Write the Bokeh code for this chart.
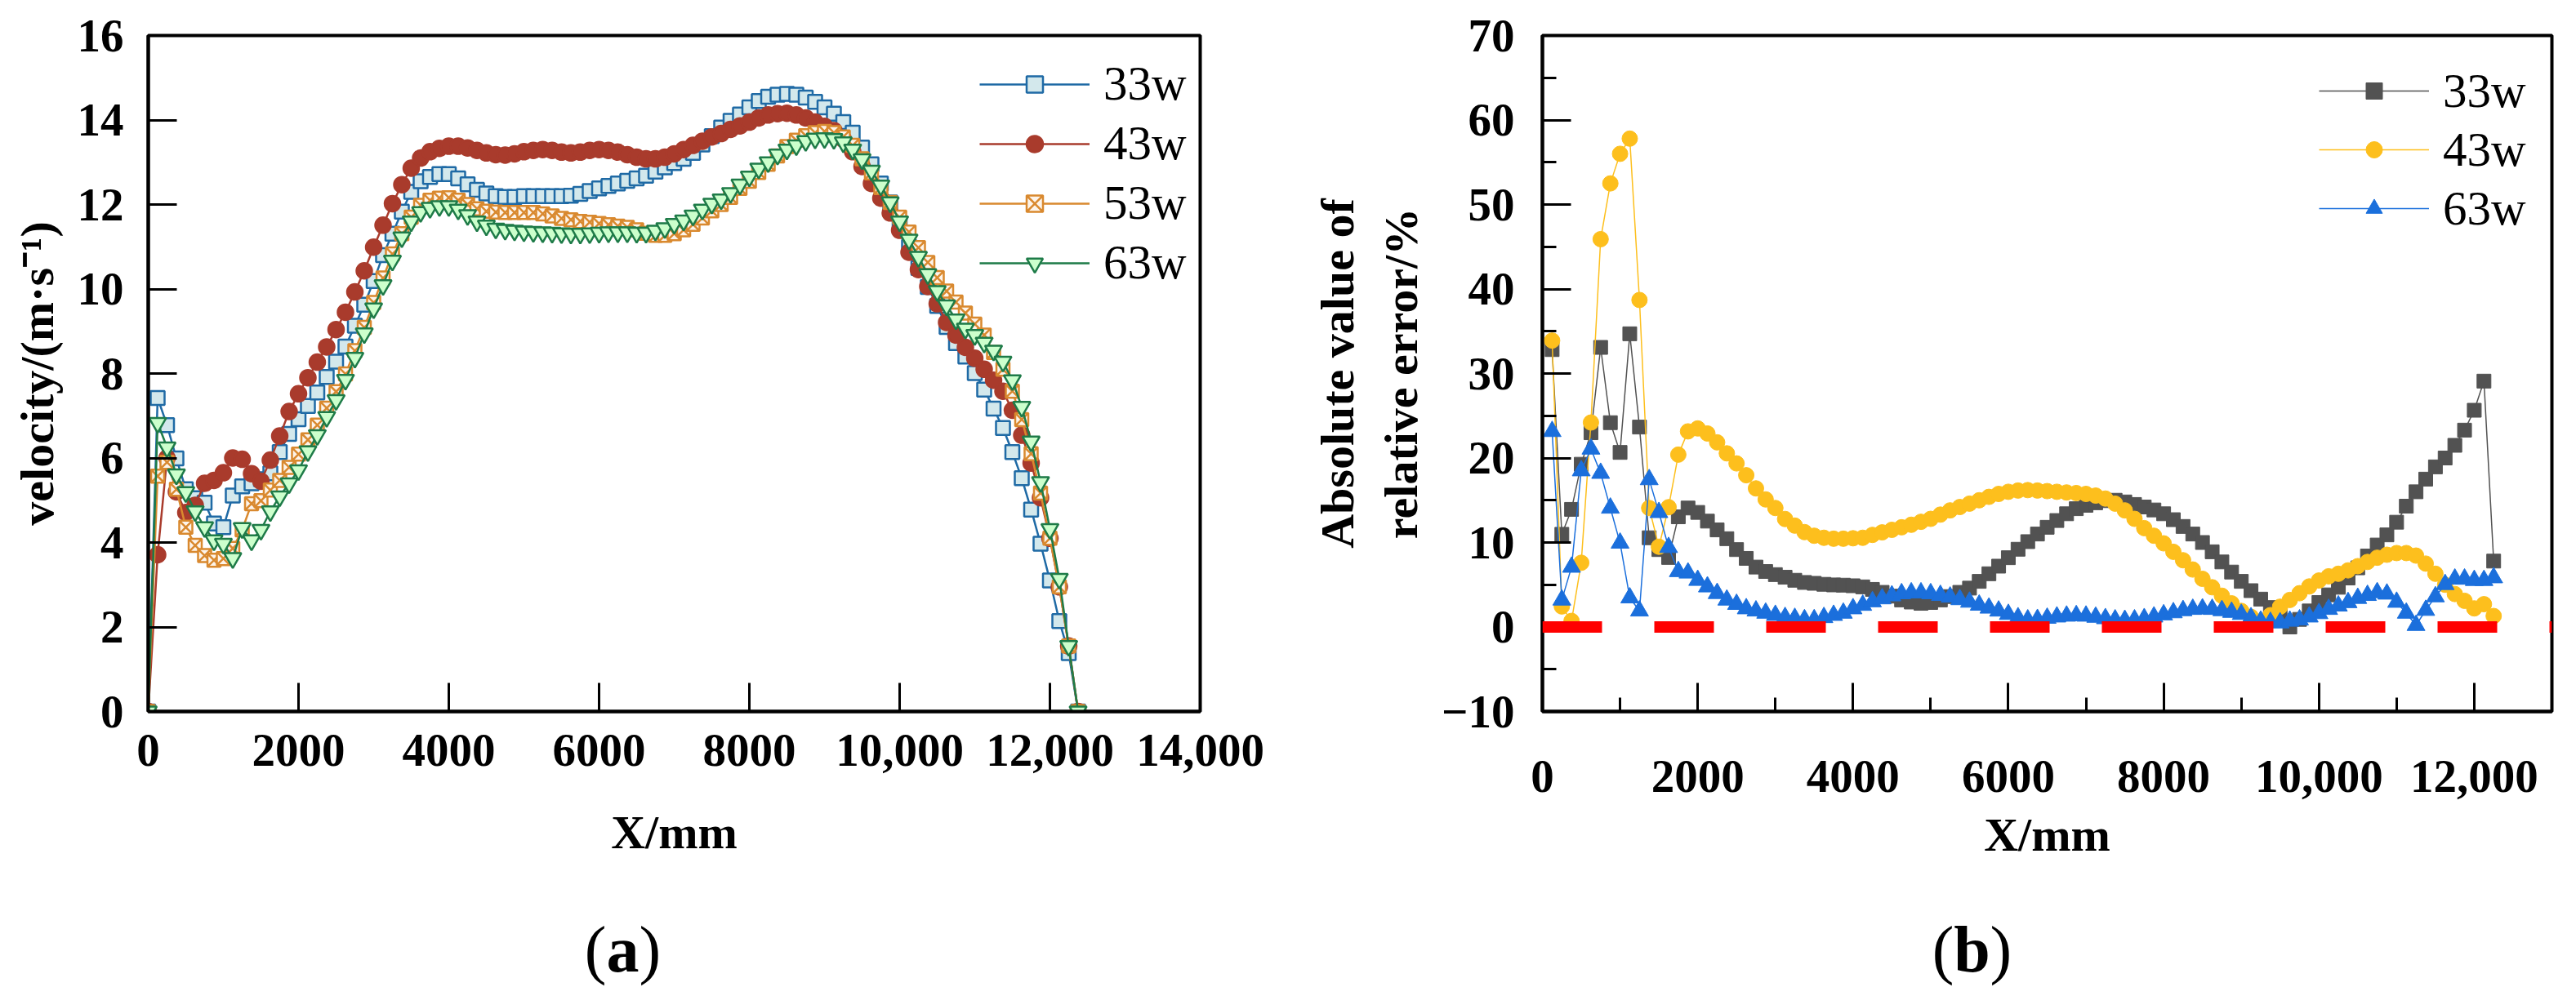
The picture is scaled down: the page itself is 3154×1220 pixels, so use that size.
from bokeh.plotting import figure
from bokeh.models import Range1d, FixedTicker, Legend, LegendItem, Label, Span
from bokeh.layouts import row, column
from bokeh.embed import file_html
from bokeh.resources import INLINE

SERIF = "Liberation Serif"

# ---------------- data ----------------
X_MM = [0, 125, 250, 375, 500, 625, 750, 875, 1000, 1125,
        1250, 1375, 1500, 1625, 1750, 1875, 2000, 2125, 2250, 2375,
        2500, 2625, 2750, 2875, 3000, 3125, 3250, 3375, 3500, 3625,
        3750, 3875, 4000, 4125, 4250, 4375, 4500, 4625, 4750, 4875,
        5000, 5125, 5250, 5375, 5500, 5625, 5750, 5875, 6000, 6125,
        6250, 6375, 6500, 6625, 6750, 6875, 7000, 7125, 7250, 7375,
        7500, 7625, 7750, 7875, 8000, 8125, 8250, 8375, 8500, 8625,
        8750, 8875, 9000, 9125, 9250, 9375, 9500, 9625, 9750, 9875,
        10000, 10125, 10250, 10375, 10500, 10625, 10750, 10875, 11000, 11125,
        11250, 11375, 11500, 11625, 11750, 11875, 12000, 12125, 12250, 12375]

# (a) velocity, m/s
VEL_33W = [0, 7.42, 6.78, 5.99, 5.26, 5.05, 4.94, 4.45, 4.36, 5.11,
           5.33, 5.40, 5.50, 5.64, 6.14, 6.57, 6.92, 7.23, 7.55, 7.92,
           8.28, 8.64, 9.13, 9.63, 10.19, 10.80, 11.31, 11.83, 12.30, 12.55,
           12.65, 12.72, 12.72, 12.62, 12.48, 12.35, 12.26, 12.20, 12.18, 12.18,
           12.20, 12.20, 12.20, 12.20, 12.20, 12.21, 12.25, 12.32, 12.38, 12.44,
           12.50, 12.56, 12.62, 12.68, 12.78, 12.88, 12.98, 13.08, 13.22, 13.42,
           13.62, 13.82, 13.98, 14.13, 14.30, 14.45, 14.55, 14.60, 14.62, 14.60,
           14.53, 14.43, 14.30, 14.15, 13.95, 13.70, 13.35, 12.95, 12.50, 12.05,
           11.50, 11.00, 10.50, 10.05, 9.60, 9.10, 8.72, 8.40, 8.01, 7.62,
           7.17, 6.71, 6.14, 5.52, 4.78, 3.97, 3.10, 2.14, 1.38, 0]
VEL_43W = [0, 3.71, 6.00, 5.20, 4.71, 4.88, 5.40, 5.47, 5.65, 6.00,
           5.97, 5.63, 5.45, 5.95, 6.52, 7.10, 7.52, 7.90, 8.27, 8.63,
           9.04, 9.45, 9.93, 10.43, 10.99, 11.51, 12.02, 12.47, 12.86, 13.10,
           13.25, 13.33, 13.38, 13.38, 13.34, 13.28, 13.22, 13.18, 13.17, 13.20,
           13.25, 13.28, 13.30, 13.28, 13.24, 13.22, 13.24, 13.28, 13.30, 13.28,
           13.24, 13.18, 13.12, 13.08, 13.08, 13.12, 13.20, 13.30, 13.40, 13.50,
           13.60, 13.68, 13.78, 13.86, 13.95, 14.05, 14.12, 14.15, 14.16, 14.12,
           14.05, 13.95, 13.85, 13.75, 13.55, 13.25, 12.90, 12.50, 12.15, 11.80,
           11.39, 10.87, 10.46, 10.06, 9.65, 9.21, 8.91, 8.62, 8.36, 8.10,
           7.84, 7.58, 7.13, 6.54, 5.88, 5.06, 4.10, 2.95, 1.55, 0]
VEL_53W = [0, 5.57, 5.90, 5.26, 4.36, 3.93, 3.69, 3.58, 3.62, 3.86,
           4.30, 4.92, 4.99, 5.24, 5.47, 5.78, 6.09, 6.43, 6.78, 7.18,
           7.57, 7.99, 8.54, 9.09, 9.68, 10.26, 10.83, 11.31, 11.70, 11.98,
           12.10, 12.15, 12.16, 12.10, 12.00, 11.90, 11.84, 11.82, 11.81, 11.81,
           11.81, 11.81, 11.78, 11.73, 11.67, 11.64, 11.60, 11.58, 11.55, 11.52,
           11.49, 11.46, 11.40, 11.32, 11.27, 11.27, 11.31, 11.40, 11.53, 11.68,
           11.85, 12.00, 12.17, 12.38, 12.55, 12.76, 12.95, 13.15, 13.37, 13.52,
           13.63, 13.70, 13.73, 13.70, 13.60, 13.40, 13.08, 12.75, 12.40, 12.05,
           11.70, 11.35, 10.98, 10.63, 10.27, 9.95, 9.69, 9.43, 9.17, 8.91,
           8.50, 8.10, 7.58, 6.91, 6.10, 5.17, 4.10, 2.95, 1.55, 0]
VEL_63W = [0, 6.83, 6.25, 5.61, 5.19, 4.74, 4.36, 4.05, 3.97, 3.63,
           4.34, 4.05, 4.30, 4.74, 5.09, 5.40, 5.71, 6.16, 6.54, 6.97,
           7.37, 7.85, 8.37, 8.95, 9.54, 10.09, 10.67, 11.22, 11.60, 11.82,
           11.92, 11.96, 11.96, 11.88, 11.75, 11.60, 11.50, 11.43, 11.40, 11.38,
           11.36, 11.35, 11.34, 11.33, 11.32, 11.31, 11.31, 11.32, 11.33, 11.34,
           11.34, 11.34, 11.33, 11.33, 11.38, 11.44, 11.54, 11.62, 11.74, 11.88,
           12.02, 12.12, 12.27, 12.47, 12.66, 12.85, 13.00, 13.18, 13.30, 13.40,
           13.50, 13.56, 13.57, 13.55, 13.47, 13.30, 13.07, 12.80, 12.45, 12.05,
           11.60, 11.17, 10.76, 10.35, 9.95, 9.61, 9.28, 9.06, 8.91, 8.73,
           8.54, 8.28, 7.84, 7.21, 6.39, 5.43, 4.32, 3.14, 1.55, 0]

# (b) absolute value of relative error, % (no value at the end points)
X_ERR = X_MM[1:-1]
ERR_33W = [32.83, 10.97, 13.92, 19.26, 22.99, 33.09, 24.18, 20.66, 34.70, 23.66,
           10.56, 9.16, 8.23, 13.04, 14.08, 13.56, 12.53, 11.49, 10.45, 9.16,
           8.12, 7.09, 6.57, 6.20, 5.89, 5.53, 5.27, 5.17, 5.05, 4.98,
           4.95, 4.88, 4.75, 4.45, 4.10, 3.65, 3.20, 2.95, 2.80, 2.90,
           3.20, 3.60, 4.10, 4.60, 5.40, 6.30, 7.20, 8.20, 9.20, 10.10,
           11.00, 11.80, 12.60, 13.40, 14.00, 14.40, 14.70, 14.95, 15.00, 14.80,
           14.50, 14.20, 13.85, 13.40, 12.70, 11.90, 11.00, 10.00, 8.90, 7.70,
           6.50, 5.40, 4.30, 3.30, 2.30, 1.30, 0.00, 0.90, 1.90, 2.90,
           3.80, 4.70, 5.80, 7.00, 8.40, 9.70, 10.90, 12.40, 14.30, 16.00,
           17.50, 18.95, 20.00, 21.50, 23.30, 25.65, 29.10, 7.80]
ERR_43W = [33.90, 2.43, 0.72, 7.60, 24.20, 45.90, 52.50, 56.00, 57.80, 38.70,
           14.08, 9.50, 14.18, 20.40, 23.15, 23.50, 22.90, 21.85, 20.55, 19.36,
           17.96, 16.40, 15.10, 14.08, 12.78, 12.00, 11.23, 10.80, 10.56, 10.45,
           10.45, 10.50, 10.56, 10.90, 11.20, 11.50, 11.80, 12.10, 12.45, 12.80,
           13.30, 13.80, 14.20, 14.60, 15.00, 15.40, 15.75, 16.00, 16.15, 16.20,
           16.15, 16.08, 16.00, 15.92, 15.85, 15.75, 15.55, 15.20, 14.60, 13.80,
           12.80, 11.70, 10.80, 9.90, 8.90, 7.90, 6.80, 5.70, 4.70, 3.70,
           2.80, 1.90, 1.20, 0.40, 1.40, 2.40, 3.20, 4.00, 4.80, 5.50,
           6.00, 6.30, 6.70, 7.20, 7.70, 8.20, 8.55, 8.75, 8.75, 8.45,
           7.50, 6.30, 5.00, 3.90, 3.10, 2.20, 2.70, 1.30]
ERR_63W = [23.15, 3.20, 7.09, 18.50, 21.07, 18.20, 14.08, 9.94, 3.46, 1.91,
           17.45, 13.56, 9.42, 6.57, 6.40, 5.53, 4.76, 3.98, 3.20, 2.69,
           2.17, 1.91, 1.65, 1.39, 1.13, 1.03, 0.87, 0.87, 1.13, 1.39,
           1.65, 2.17, 2.58, 3.00, 3.35, 3.70, 3.95, 4.05, 4.05, 3.95,
           3.75, 3.55, 3.25, 2.95, 2.60, 2.25, 1.90, 1.50, 1.10, 0.85,
           0.90, 1.05, 1.20, 1.30, 1.35, 1.30, 1.17, 1.00, 0.85, 0.80,
           0.85, 1.00, 1.20, 1.45, 1.70, 1.95, 2.10, 2.15, 2.10, 1.95,
           1.75, 1.50, 1.10, 0.70, 0.55, 0.50, 0.70, 0.85, 1.20, 1.60,
           2.10, 2.50, 2.90, 3.40, 3.75, 4.07, 3.91, 2.94, 1.65, 0.20,
           1.98, 3.59, 5.04, 5.68, 5.68, 5.52, 5.52, 5.84]
ERR_REF = 0

SERIES_LABELS_A = ["33w", "43w", "53w", "63w"]
SERIES_LABELS_B = ["33w", "43w", "63w"]

XTICKS_A = [0, 2000, 4000, 6000, 8000, 10000, 12000, 14000]
XTICK_LABELS_A = ["0", "2000", "4000", "6000", "8000", "10,000", "12,000", "14,000"]
YTICKS_A = [0, 2, 4, 6, 8, 10, 12, 14, 16]
XTICKS_B = [0, 2000, 4000, 6000, 8000, 10000, 12000]
XMINOR_B = [1000, 3000, 5000, 7000, 9000, 11000]
XTICK_LABELS_B = ["0", "2000", "4000", "6000", "8000", "10,000", "12,000"]
YTICKS_B = [-10, 0, 10, 20, 30, 40, 50, 60, 70]
YMINOR_B = [-5, 5, 15, 25, 35, 45, 55, 65]
YTICK_LABELS_B = ["\u221210", "0", "10", "20", "30", "40", "50", "60", "70"]

MAIN_H = 1092
CAP_H = 120


def style_axis(ax, lab_standoff, axlab_standoff):
    ax.axis_line_width = 4
    ax.axis_line_color = "black"
    ax.major_tick_in = 35
    ax.major_tick_out = 0
    ax.major_tick_line_width = 3
    ax.major_tick_line_color = "black"
    ax.minor_tick_in = 17
    ax.minor_tick_out = 0
    ax.minor_tick_line_width = 3
    ax.minor_tick_line_color = "black"
    ax.major_label_text_font = SERIF
    ax.major_label_text_font_size = "57px"
    ax.major_label_text_font_style = "bold"
    ax.major_label_text_color = "black"
    ax.major_label_standoff = lab_standoff
    ax.axis_label_text_font = SERIF
    ax.axis_label_text_font_size = "58px"
    ax.axis_label_text_font_style = "bold"
    ax.axis_label_text_color = "black"
    ax.axis_label_standoff = axlab_standoff


def make_fig(width, xr, yr, bl, br):
    p = figure(width=width, height=MAIN_H, x_range=Range1d(*xr), y_range=Range1d(*yr),
               output_backend="svg", toolbar_location=None,
               min_border_left=bl, min_border_right=br, min_border_top=43,
               min_border_bottom=MAIN_H - 43 - 828)
    p.grid.visible = False
    p.outline_line_color = "black"
    p.outline_line_width = 4
    p.background_fill_color = "white"
    p.border_fill_color = "white"
    return p


def caption_fig(width, letter, cx, letter_w):
    c = figure(width=width, height=CAP_H, x_range=Range1d(0, 1), y_range=Range1d(0, 1),
               output_backend="svg", toolbar_location=None,
               x_axis_type=None, y_axis_type=None, min_border=0)
    c.grid.visible = False
    c.outline_line_color = None
    c.background_fill_color = "white"
    c.border_fill_color = "white"
    common = dict(x_units="screen", y_units="screen", y=50, text_font=SERIF,
                  text_font_size="80px", text_baseline="middle", text_color="black")
    c.add_layout(Label(x=cx - letter_w / 2, text="(", text_align="right", **common))
    c.add_layout(Label(x=cx, text=letter, text_align="center", text_font_style="bold", **common))
    c.add_layout(Label(x=cx + letter_w / 2, text=")", text_align="left", **common))
    return c


def make_legend(items, loc, row_h):
    return Legend(items=items, location=loc, orientation="vertical",
                  glyph_width=135, glyph_height=50, label_height=row_h,
                  label_standoff=17, spacing=0, padding=0, margin=0,
                  border_line_alpha=0, background_fill_alpha=0,
                  label_text_font=SERIF, label_text_font_size="59px",
                  label_text_color="black")


# ---------------- (a) ----------------
pa = make_fig(1588, (0, 14000), (0, 16), 181, 119)
style_axis(pa.xaxis[0], 28, 46)
style_axis(pa.yaxis[0], 30, 14)
pa.xaxis[0].ticker = FixedTicker(ticks=XTICKS_A, minor_ticks=[])
pa.xaxis[0].major_label_overrides = dict(zip(XTICKS_A, XTICK_LABELS_A))
pa.yaxis[0].ticker = FixedTicker(ticks=YTICKS_A, minor_ticks=[])
pa.xaxis[0].axis_label = "X/mm"
pa.yaxis[0].axis_label = "velocity/(m\u00b7s\u207b\u00b9)"

styles_a = [
    dict(marker="square", size=17, line_color="#1f6aa5", fill_color="#d3e8ec"),
    dict(marker="circle", size=19, line_color="#a93b2c", fill_color="#a93b2c"),
    dict(marker="square_x", size=16, line_color="#d9892f", fill_color="#fdf4ea"),
    dict(marker="inverted_triangle", size=21, line_color="#1e7b48", fill_color="#ccffcc"),
]
items_a = []
for lab, ys, st in zip(SERIES_LABELS_A, [VEL_33W, VEL_43W, VEL_53W, VEL_63W], styles_a):
    lr = pa.line(X_MM, ys, line_color=st["line_color"], line_width=2.5)
    sr = pa.scatter(X_MM, ys, marker=st["marker"], size=st["size"],
                    line_color=st["line_color"], fill_color=st["fill_color"], line_width=2.5)
    items_a.append(LegendItem(label=lab, renderers=[lr, sr]))
pa.add_layout(make_legend(items_a, (1018, 513), 73))

# ---------------- (b) ----------------
pb = make_fig(1550, (0, 13000), (-10, 70), 300, 14)
style_axis(pb.xaxis[0], 60, 17)
style_axis(pb.yaxis[0], 34, 14)
pb.xaxis[0].ticker = FixedTicker(ticks=XTICKS_B, minor_ticks=XMINOR_B)
pb.xaxis[0].major_label_overrides = dict(zip(XTICKS_B, XTICK_LABELS_B))
pb.yaxis[0].ticker = FixedTicker(ticks=YTICKS_B, minor_ticks=YMINOR_B)
pb.yaxis[0].major_label_overrides = dict(zip(YTICKS_B, YTICK_LABELS_B))
pb.xaxis[0].axis_label = "X/mm"
pb.yaxis[0].axis_label = "Absolute value of\nrelative error/%"

styles_b = [
    dict(marker="square", size=17, color="#525252"),
    dict(marker="circle", size=19, color="#fdbf1d"),
    dict(marker="triangle", size=22, color="#1b6fdc"),
]
items_b = []
for lab, ys, st in zip(SERIES_LABELS_B, [ERR_33W, ERR_43W, ERR_63W], styles_b):
    lr = pb.line(X_ERR, ys, line_color=st["color"], line_width=1.5)
    sr = pb.scatter(X_ERR, ys, marker=st["marker"], size=st["size"],
                    line_color=st["color"], fill_color=st["color"], line_width=1)
    items_b.append(LegendItem(label=lab, renderers=[lr, sr]))
pb.add_layout(make_legend(items_b, (951, 580), 72))
pb.add_layout(Span(location=ERR_REF, dimension="width", line_color="#ff0000",
                   line_width=14, line_dash="73 64"))

ca = caption_fig(1588, "a", 762, 40)
cb = caption_fig(1550, "b", 826, 44)

layout = column(row(pa, pb), row(ca, cb))
open("out.html", "w").write(file_html(layout, INLINE))
